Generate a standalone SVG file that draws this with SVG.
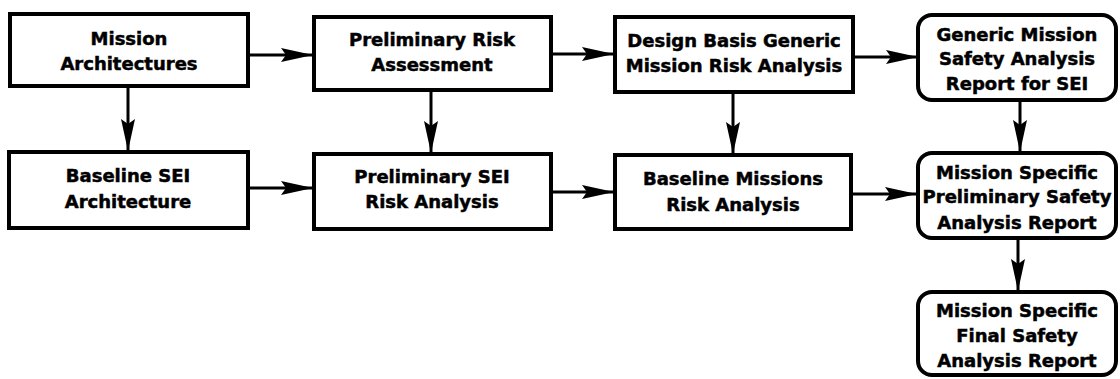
<svg xmlns="http://www.w3.org/2000/svg" width="1120" height="379" viewBox="0 0 1120 379">
<style>
.box{fill:#fff;stroke:#000;stroke-width:4}
.conn{stroke:#000;stroke-width:3;fill:none;marker-end:url(#ah)}
text{font-family:"DejaVu Sans","Liberation Sans",sans-serif;font-weight:bold;font-size:18px;text-anchor:middle;fill:#000;stroke:#000;stroke-width:0.5}
</style>
<defs>
<marker id="ah" markerUnits="userSpaceOnUse" markerWidth="32" markerHeight="16" refX="31" refY="8" orient="auto">
<path d="M0,1 L32,8 L0,15 L5,8 z" fill="#000"/>
</marker>
</defs>
<rect width="1120" height="379" fill="#fff"/>
<g id="connectors">
<line class="conn" x1="250" y1="55" x2="312" y2="55"/>
<line class="conn" x1="553" y1="54" x2="613" y2="54"/>
<line class="conn" x1="855" y1="57" x2="917" y2="57"/>
<line class="conn" x1="250" y1="188" x2="312" y2="188"/>
<line class="conn" x1="553" y1="192" x2="613" y2="192"/>
<line class="conn" x1="853" y1="194" x2="916" y2="194"/>
<line class="conn" x1="128" y1="88" x2="128" y2="150"/>
<line class="conn" x1="431" y1="92" x2="431" y2="152"/>
<line class="conn" x1="733" y1="94" x2="733" y2="153"/>
<line class="conn" x1="1020" y1="102" x2="1020" y2="151"/>
<line class="conn" x1="1018" y1="240" x2="1018" y2="290"/>
</g>
<g id="n1"><rect class="box" x="10" y="14" width="238" height="72"/>
<text x="129" y="45">Mission</text><text x="129" y="70">Architectures</text></g>
<g id="n2"><rect class="box" x="314" y="17" width="237" height="73"/>
<text x="432" y="46">Preliminary Risk</text><text x="432" y="71">Assessment</text></g>
<g id="n3"><rect class="box" x="615" y="17" width="238" height="75"/>
<text x="734" y="47">Design Basis Generic</text><text x="734" y="72">Mission Risk Analysis</text></g>
<g id="n4"><rect class="box" x="918" y="15" width="198" height="85" rx="14"/>
<text x="1017" y="41">Generic Mission</text><text x="1017" y="65">Safety Analysis</text><text x="1017" y="90">Report for SEI</text></g>
<g id="n5"><rect class="box" x="9" y="152" width="239" height="76"/>
<text x="128" y="182">Baseline SEI</text><text x="128" y="208">Architecture</text></g>
<g id="n6"><rect class="box" x="314" y="154" width="237" height="75"/>
<text x="432" y="183">Preliminary SEI</text><text x="432" y="208">Risk Analysis</text></g>
<g id="n7"><rect class="box" x="615" y="155" width="236" height="74"/>
<text x="733" y="185">Baseline Missions</text><text x="733" y="211">Risk Analysis</text></g>
<g id="n8"><rect class="box" x="918" y="153" width="198" height="85" rx="14"/>
<text x="1017" y="179">Mission Specific</text><text x="1017" y="203">Preliminary Safety</text><text x="1017" y="229">Analysis Report</text></g>
<g id="n9"><rect class="box" x="918" y="292" width="198" height="83" rx="14"/>
<text x="1017" y="317">Mission Specific</text><text x="1017" y="342">Final Safety</text><text x="1017" y="367">Analysis Report</text></g>
</svg>
